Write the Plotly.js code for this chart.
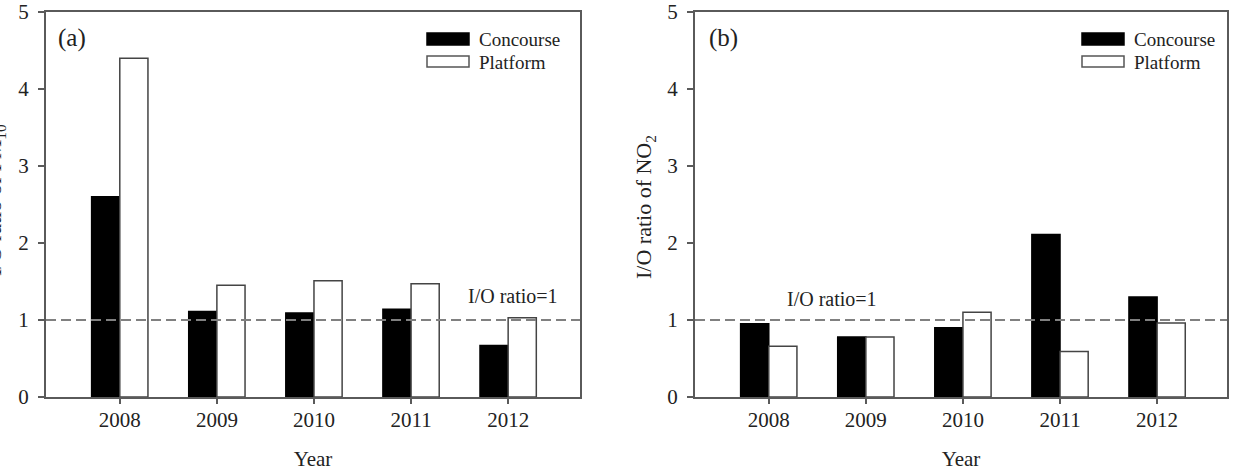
<!DOCTYPE html>
<html>
<head>
<meta charset="utf-8">
<script src="https://cdn.plot.ly/plotly-3.0.1.min.js"></script>
<style>html,body{margin:0;padding:0;background:#fff;}#chart{width:1233px;height:473px;}</style>
</head>
<body>
<div id="chart"></div>
<script>
const years = ["2008", "2009", "2010", "2011", "2012"];
const pm10Concourse = [2.60, 1.11, 1.09, 1.14, 0.67];
const pm10Platform = [4.40, 1.45, 1.51, 1.47, 1.03];
const no2Concourse = [0.95, 0.78, 0.90, 2.11, 1.30];
const no2Platform = [0.66, 0.78, 1.10, 0.59, 0.96];
const ratioLine = 1;
const seriesNames = ["Concourse", "Platform"];
const yTitles = ["I/O ratio of PM<sub>10</sub>", "I/O ratio of NO<sub>2</sub>"];
const panelLabels = ["(a)", "(b)"];
const lineLabel = "I/O ratio=1";

const FONT = "Liberation Serif, Times New Roman, serif";
const AX = "#5a5a5a";
const TXT = "#222222";
const W = 1233, H = 473, TOP = 12, BOT = 397;
function xp(pix) { return pix / W; }
function yp(pix) { return 1 - (pix - TOP) / (BOT - TOP); }

function bar(x, y, name, fill, xa, ya) {
  return {
    type: "bar", x: x, y: y, name: name, xaxis: xa, yaxis: ya, showlegend: false,
    marker: {color: fill, line: {color: fill === "#000000" ? "#000000" : "#444444", width: 1.5}},
    hoverinfo: "x+y+name"
  };
}

const data = [
  bar(years, pm10Concourse, seriesNames[0], "#000000", "x", "y"),
  bar(years, pm10Platform, seriesNames[1], "#ffffff", "x", "y"),
  bar(years, no2Concourse, seriesNames[0], "#000000", "x2", "y2"),
  bar(years, no2Platform, seriesNames[1], "#ffffff", "x2", "y2")
];

function xax(domain, anchor, range) {
  return {
    domain: domain, anchor: anchor, type: "category", range: range,
    showline: true, mirror: true, linecolor: AX, linewidth: 2,
    ticks: "outside", ticklen: 5, tickcolor: AX, tickwidth: 1.5,
    showgrid: false, zeroline: false,
    tickfont: {family: FONT, size: 21, color: TXT},
    ticklabelstandoff: -2,
    title: {text: "Year", font: {family: FONT, size: 21, color: TXT}, standoff: 20},
    automargin: false, fixedrange: true
  };
}
function yax(anchor) {
  return {
    domain: [0, 1], anchor: anchor, range: [0, 5], dtick: 1,
    showline: true, mirror: true, linecolor: AX, linewidth: 2,
    ticks: "outside", ticklen: 6, tickcolor: AX, tickwidth: 1.5,
    showgrid: false, zeroline: false,
    tickfont: {family: FONT, size: 21, color: TXT},
    ticklabelstandoff: 5,
    automargin: false, fixedrange: true
  };
}

const dom1 = [xp(46), xp(580)];
const dom2 = [xp(695), xp(1227)];

const shapes = [];
const annotations = [];

// reference lines at I/O ratio = 1
["x", "x2"].forEach(function (xa, i) {
  shapes.push({type: "line", xref: xa + " domain", yref: i ? "y2" : "y", x0: 0, x1: 1, y0: ratioLine, y1: ratioLine,
    line: {color: "#808080", width: 2, dash: "10px,5px"}});
});

// legends drawn as boxes + text
function legend(xPix) {
  shapes.push({type: "rect", xref: "paper", yref: "paper", x0: xp(xPix), x1: xp(xPix + 42), y0: yp(45), y1: yp(33),
    fillcolor: "#000000", line: {color: "#000000", width: 1.5}});
  shapes.push({type: "rect", xref: "paper", yref: "paper", x0: xp(xPix), x1: xp(xPix + 42), y0: yp(67), y1: yp(56),
    fillcolor: "#ffffff", line: {color: "#555555", width: 1.5}});
  annotations.push({xref: "paper", yref: "paper", x: xp(xPix + 50), y: yp(39), xanchor: "left", yanchor: "middle",
    text: seriesNames[0], showarrow: false, font: {family: FONT, size: 19, color: TXT}});
  annotations.push({xref: "paper", yref: "paper", x: xp(xPix + 50), y: yp(62), xanchor: "left", yanchor: "middle",
    text: seriesNames[1], showarrow: false, font: {family: FONT, size: 19, color: TXT}});
}
legend(427);
legend(1082);

// panel labels
annotations.push({xref: "paper", yref: "paper", x: xp(56), y: yp(38), xanchor: "left", yanchor: "middle",
  text: panelLabels[0], showarrow: false, font: {family: FONT, size: 25, color: TXT}});
annotations.push({xref: "paper", yref: "paper", x: xp(707), y: yp(38), xanchor: "left", yanchor: "middle",
  text: panelLabels[1], showarrow: false, font: {family: FONT, size: 25, color: TXT}});

// I/O ratio = 1 labels
annotations.push({xref: "paper", yref: "paper", x: xp(466), y: yp(296), xanchor: "left", yanchor: "middle",
  text: lineLabel, showarrow: false, font: {family: FONT, size: 20, color: TXT}});
annotations.push({xref: "paper", yref: "paper", x: xp(785), y: yp(299), xanchor: "left", yanchor: "middle",
  text: lineLabel, showarrow: false, font: {family: FONT, size: 20, color: TXT}});

// y-axis titles (left one runs off the image edge, as in the reference)
annotations.push({xref: "paper", yref: "paper", x: xp(-5), y: yp(200), xanchor: "center", yanchor: "middle",
  textangle: -90, text: yTitles[0], showarrow: false, font: {family: FONT, size: 22, color: TXT}});
annotations.push({xref: "paper", yref: "paper", x: xp(645), y: yp(207), xanchor: "center", yanchor: "middle",
  textangle: -90, text: yTitles[1], showarrow: false, font: {family: FONT, size: 22, color: TXT}});

const layout = {
  width: W, height: H,
  margin: {l: 0, r: 0, t: TOP, b: H - BOT, pad: 0},
  paper_bgcolor: "#ffffff", plot_bgcolor: "#ffffff",
  barmode: "group", bargap: 0.42, bargroupgap: 0,
  showlegend: false,
  font: {family: FONT, color: TXT},
  xaxis: xax(dom1, "y", [-0.76, 4.74]),
  yaxis: yax("x"),
  xaxis2: xax(dom2, "y2", [-0.76, 4.72]),
  yaxis2: yax("x2"),
  shapes: shapes,
  annotations: annotations
};

Plotly.newPlot("chart", data, layout, {displayModeBar: false, staticPlot: true});
</script>
</body>
</html>
